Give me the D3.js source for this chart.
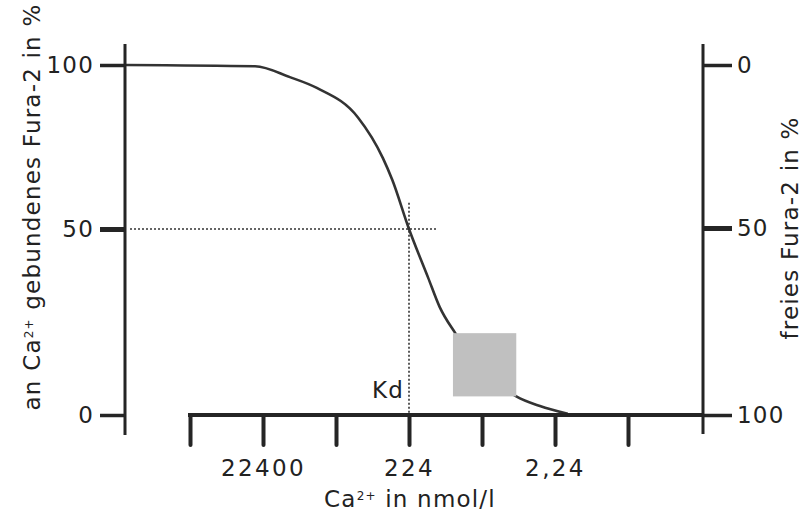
<!DOCTYPE html>
<html lang="de">
<head>
  <meta charset="utf-8">
  <title>Fura-2 Ca2+ Bindung</title>
  <script src="https://d3js.org/d3.v7.min.js"></script>
  <style>
    body { margin: 0; background: #fff; }
    text { font-family: "DejaVu Sans", Verdana, sans-serif; fill: #222; letter-spacing: 1.2px; }
  </style>
</head>
<body>
  <div id="chart"></div>
  <script>
    // Ca2+ Konzentration (nmol/l) und gebundenes Fura-2 (%)
    var conc  = [1740000, 28800, 9600, 4100, 1120, 510, 380, 224, 123, 85, 52, 7.6, 3.6, 1.5];
    var bound = [100, 99.6, 96.3, 93, 84, 71.6, 65, 50, 37, 29, 22, 5, 2.4, 0.3];

    var xTicks = [224000, 22400, 2240, 224, 22.4, 2.24, 0.224];
    var xTickLabels = ['', '22400', '', '224', '', '2,24', ''];
    var leftTicks = [0, 50, 100];
    var rightTicks = [0, 50, 100];
    var kd = 224;
    var boxConc = [56, 7.6];      // grauer Bereich, x
    var boxBound = [5, 22];       // grauer Bereich, y
    var hLineEnd = 93;            // Ende der 50%-Linie (nmol/l)
    var vLineTop = 58;            // oberes Ende der Kd-Linie (%)

    var w = 802, h = 521;
    var svg = d3.select('#chart').append('svg')
      .attr('width', w)
      .attr('height', h);

    var x = d3.scaleLog().domain([224000, 0.224]).range([190, 628]);
    var y = d3.scaleLinear().domain([0, 50, 100]).range([415, 229, 65]);
    var yR = d3.scaleLinear().domain([100, 50, 0]).range([415, 228, 65]);
    var axisL = 125, axisR = 703;
    var ink = '#252525';
    var fs = '23px';

    // gepunktete Hilfslinien
    svg.append('line')
      .attr('x1', axisL + 5).attr('x2', x(hLineEnd))
      .attr('y1', y(50)).attr('y2', y(50))
      .attr('stroke', '#333').attr('stroke-width', 1.6)
      .attr('stroke-dasharray', '2,2');
    svg.append('line')
      .attr('x1', x(kd)).attr('x2', x(kd))
      .attr('y1', y(vLineTop)).attr('y2', y(0))
      .attr('stroke', '#333').attr('stroke-width', 1.6)
      .attr('stroke-dasharray', '2,2');

    // Kurve
    var pts = conc.map(function(c, i) { return {c: c, b: bound[i]}; });
    var line = d3.line()
      .x(function(d) { return x(d.c); })
      .y(function(d) { return y(d.b); })
      .curve(d3.curveMonotoneX);
    svg.append('path')
      .datum(pts)
      .attr('d', line)
      .attr('fill', 'none')
      .attr('stroke', '#333')
      .attr('stroke-width', 2.6);

    // grauer Kasten (liegt über der Kurve)
    svg.append('rect')
      .attr('x', x(boxConc[0]))
      .attr('y', y(boxBound[1]))
      .attr('width', x(boxConc[1]) - x(boxConc[0]))
      .attr('height', y(boxBound[0]) - y(boxBound[1]))
      .attr('fill', '#c0c0c0');

    // x-Achse
    var gx = svg.append('g')
      .attr('transform', 'translate(0,' + y(0) + ')')
      .call(d3.axisBottom(x).tickValues(xTicks).tickSize(30).tickPadding(15)
        .tickFormat(function(d, i) { return xTickLabels[i]; }));
    gx.select('.domain').remove();
    gx.selectAll('.tick line').attr('stroke', ink).attr('stroke-width', 4).attr('stroke-linecap', 'round');
    gx.selectAll('.tick text').style('font-size', fs).style('letter-spacing', '2.4px').attr('fill', '#222');
    svg.append('line')
      .attr('x1', x(xTicks[0]) - 2).attr('x2', axisR)
      .attr('y1', y(0)).attr('y2', y(0))
      .attr('stroke', ink).attr('stroke-width', 4);

    // linke Achse
    var gl = svg.append('g')
      .attr('transform', 'translate(' + axisL + ',0)')
      .call(d3.axisLeft(y).tickValues(leftTicks).tickSize(25).tickPadding(6));
    gl.select('.domain').remove();
    gl.selectAll('.tick line').attr('stroke', ink)
      .attr('stroke-width', function(d) { return d === 50 ? 5 : 3.5; });
    gl.selectAll('.tick text').style('font-size', fs).attr('fill', '#222');
    svg.append('line')
      .attr('x1', axisL).attr('x2', axisL)
      .attr('y1', 44).attr('y2', 435)
      .attr('stroke', ink).attr('stroke-width', 3);

    // rechte Achse
    var gr = svg.append('g')
      .attr('transform', 'translate(' + axisR + ',0)')
      .call(d3.axisRight(yR).tickValues(rightTicks).tickSize(29).tickPadding(5));
    gr.select('.domain').remove();
    gr.selectAll('.tick line').attr('stroke', ink)
      .attr('stroke-width', function(d) { return d === 50 ? 5 : 3.5; });
    gr.selectAll('.tick text').style('font-size', fs).attr('fill', '#222');
    svg.append('line')
      .attr('x1', axisR).attr('x2', axisR)
      .attr('y1', 44).attr('y2', 434)
      .attr('stroke', ink).attr('stroke-width', 3);

    // Beschriftungen
    svg.append('text')
      .attr('x', x(kd) - 5).attr('y', 398)
      .attr('text-anchor', 'end')
      .style('font-size', fs)
      .text('Kd');

    var tl = svg.append('text')
      .attr('transform', 'translate(40,207) rotate(-90)')
      .attr('text-anchor', 'middle')
      .style('font-size', fs);
    tl.append('tspan').text('an Ca');
    tl.append('tspan').attr('baseline-shift', 'super').style('font-size', '12px').text('2+');
    tl.append('tspan').text(' gebundenes Fura-2 in %');

    svg.append('text')
      .attr('transform', 'translate(798,228) rotate(-90)')
      .attr('text-anchor', 'middle')
      .style('font-size', fs)
      .text('freies Fura-2 in %');

    var tx = svg.append('text')
      .attr('x', 410).attr('y', 507)
      .attr('text-anchor', 'middle')
      .style('font-size', fs);
    tx.append('tspan').text('Ca');
    tx.append('tspan').attr('baseline-shift', 'super').style('font-size', '12px').text('2+');
    tx.append('tspan').text(' in nmol/l');
  </script>
</body>
</html>
